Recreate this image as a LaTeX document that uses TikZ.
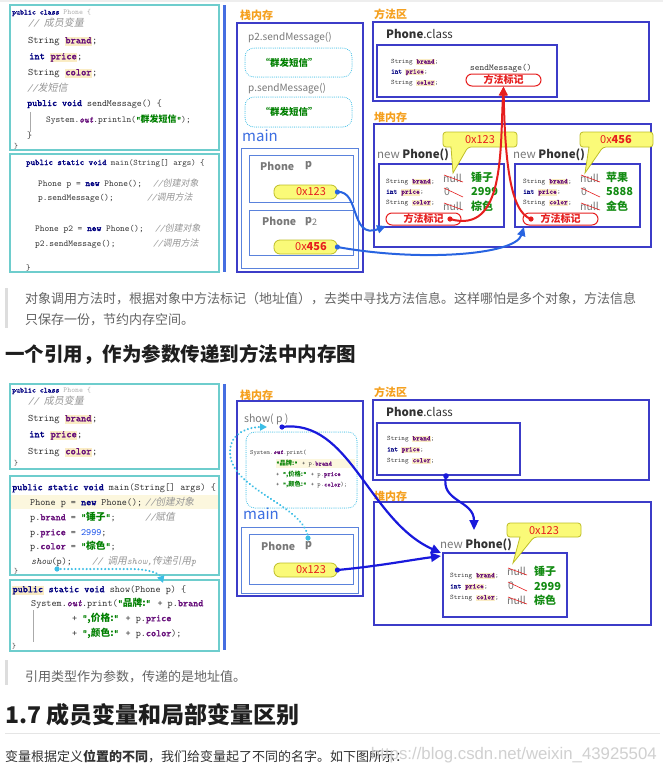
\documentclass[tikz,border=0pt]{standalone}
\usepackage{fontspec}
\usetikzlibrary{arrows.meta}
\newfontfamily\cjk{Noto Sans CJK SC}
\newfontfamily\cjki{Noto Sans CJK SC}[FakeSlant=0.2]
\newfontfamily\codefont{lmmono10-regular.otf}[BoldFont=lmmono10-regular.otf,BoldFeatures={FakeBold=2},ItalicFont=lmmono10-italic.otf,BoldItalicFont=lmmono10-italic.otf,BoldItalicFeatures={FakeBold=2}]
\newfontfamily\wmfont{Liberation Sans}
\newcommand\fs[1]{\fontsize{#1}{#1}\selectfont}
\definecolor{kwc}{RGB}{0,0,128}
\definecolor{fldc}{RGB}{102,14,122}
\definecolor{hly}{RGB}{250,236,196}
\definecolor{hlband}{RGB}{252,247,222}
\definecolor{cmtc}{RGB}{150,150,150}
\definecolor{strc}{RGB}{0,128,0}
\definecolor{numc}{RGB}{23,80,235}
\definecolor{codec}{RGB}{50,50,50}
\definecolor{lgr}{RGB}{170,170,170}
\definecolor{cyanb}{RGB}{110,205,205}
\definecolor{bbar}{RGB}{70,110,225}
\definecolor{stkb}{RGB}{60,60,200}
\definecolor{mainb}{RGB}{90,130,220}
\definecolor{orng}{RGB}{245,160,30}
\definecolor{graytxt}{RGB}{120,120,120}
\definecolor{darkgr}{RGB}{50,50,50}
\definecolor{pillf}{RGB}{250,250,120}
\definecolor{pilld}{RGB}{190,190,40}
\definecolor{redc}{RGB}{230,30,30}
\definecolor{grn}{RGB}{20,140,20}
\definecolor{arrb}{RGB}{40,100,225}
\definecolor{arrb2}{RGB}{25,25,220}
\definecolor{dotc}{RGB}{60,190,230}
\definecolor{mainblue}{RGB}{60,110,225}
\definecolor{paragr}{RGB}{100,100,100}
\definecolor{headc}{RGB}{30,30,30}
\definecolor{qbar}{RGB}{221,221,221}
\definecolor{rulec}{RGB}{229,229,229}
\definecolor{topg}{RGB}{238,238,238}
\definecolor{wmc}{RGB}{200,200,200}
\newcommand\kw[1]{{\bfseries\color{kwc}#1}}
\newcommand\fld[1]{{\setlength\fboxsep{0.4pt}\colorbox{hly}{\vphantom{bp}\bfseries\color{fldc}#1}}}
\newcommand\fldn[1]{{\bfseries\color{fldc}#1}}
\newcommand\cmt[1]{{\color{cmtc}\itshape #1}}
\newcommand\gstr[1]{{\color{strc}\bfseries “{\cjk #1}”}}
\newcommand\outk{{\color{fldc}\bfseries\itshape out}}
\tikzset{
 cd/.style={anchor=base west, inner sep=0pt, font={\codefont\fs{#1}}, text=codec},
 lbl/.style={anchor=west, inner sep=0pt, font={\cjk\bfseries\fs{11}}, text=orng},
 gtxt/.style={anchor=west, inner sep=0pt, font={\cjk\fs{10}}, text=graytxt},
 gstrn/.style={inner sep=0pt, font={\cjk\bfseries\fs{9.5}}, text=strc},
 mainlbl/.style={anchor=west, inner sep=0pt, font={\cjk\fs{15}}, text=mainblue},
 ptxt/.style={anchor=west, inner sep=0pt, font={\cjk\bfseries\fs{10.5}}, text=graytxt},
 addr/.style={inner sep=0pt, font={\cjk\fs{11}}, text=redc},
 pill/.style={draw=pilld, fill=pillf, rounded corners=6pt, minimum width=63pt, minimum height=14pt, inner sep=0pt, line width=0.8pt},
 boxa/.style={draw=stkb, line width=1.2pt},
 boxm/.style={draw=mainb, line width=1pt},
 cyb/.style={draw=cyanb, line width=1.3pt},
 dotbox/.style={draw=dotc, line width=1pt, dash pattern=on 0.1pt off 1.8pt, line cap=round, rounded corners=9pt},
 clsl/.style={anchor=west, inner sep=0pt, font={\cjk\fs{11.5}}, text=darkgr},
 npl/.style={anchor=west, inner sep=0pt, font={\cjk\fs{11.5}}},
 mkbox/.style={draw=redc, rounded corners=6pt, minimum width=75pt, minimum height=12pt, inner sep=0pt, line width=1pt, text=redc, font={\cjk\bfseries\fs{10}}},
 nullt/.style={anchor=west, inner sep=0pt, font={\cjk\fs{10.5}}, text=graytxt},
 val/.style={anchor=west, inner sep=0pt, font={\cjk\bfseries\fs{11}}, text=grn},
 strike/.style={draw=redc, line width=0.6pt},
 callout/.style={fill=pillf, draw=pilld, line width=0.8pt},
 redarr/.style={draw=redc, line width=2pt, -{Triangle[length=9pt,width=8pt]}},
 bluearr/.style={draw=arrb, line width=2pt, -{Triangle[length=9pt,width=8pt]}},
 bluearr2/.style={draw=arrb2, line width=2.2pt, -{Triangle[length=10pt,width=9pt]}},
 dotarr/.style={draw=dotc, line width=2.2pt, dash pattern=on 0.1pt off 3.6pt, line cap=round, -{Triangle[length=7pt,width=7pt]}},
 para/.style={anchor=west, inner sep=0pt, font={\cjk\fs{13}}, text=paragr},
 head/.style={anchor=west, inner sep=0pt, font={\cjk\bfseries\fs{#1}}, text=headc},
}
\begin{document}
\begin{tikzpicture}[x=1pt,y=-1pt]
\useasboundingbox (0,0) rectangle (663,772);
\fill[white] (0,0) rectangle (663,772);
\fill[topg] (0,0) rectangle (663,1.5);

%================ SECTION 1 : code
\draw[cyb] (10,5) rectangle (219,150);
\node[cd=7.5] (a0) at (12,14.5) {\kw{public class} {\color{lgr}Phone \{}};
\node[cd=10] (a1) at (28,26.5) {\cmt{// {\cjki 成员变量}}};
\node[cd=10] (a2) at (28,43.3) {String \fld{brand};};
\node[cd=10] (a3) at (29,59.3) {\kw{int} \fld{price};};
\node[cd=10] (a4) at (28,75.3) {String \fld{color};};
\node[cd=10] (a5) at (27,91.3) {\cmt{//{\cjki 发短信}}};
\node[cd=9.5] (a6) at (27,106) {\kw{public void} sendMessage() \{};
\node[cd=9] (a7) at (46,122.5) {System.\outk.println(\gstr{群发短信});};
\node[cd=9.5] (a8) at (27,138) {\}};
\node[cd=7.5] (a9) at (14,148.5) {\}};
\draw[lgr, line width=0.5pt] (30,112) -- (30,132);

\draw[cyb] (10,154) rectangle (219,272);
\node[cd=8.5] (b0) at (26,165) {\kw{public static void} main(String[] args) \{};
\node[cd=9] (b1) at (38,186) {Phone p = \kw{new} Phone();};
\node[cd=9] (b1c) at (153,186) {\cmt{//{\cjki 创建对象}}};
\node[cd=9] (b2) at (38,200) {p.sendMessage();};
\node[cd=9] (b2c) at (147,200) {\cmt{//{\cjki 调用方法}}};
\node[cd=9] (b3) at (35,231) {Phone p2 = \kw{new} Phone();};
\node[cd=9] (b3c) at (155,231) {\cmt{//{\cjki 创建对象}}};
\node[cd=9] (b4) at (35,246) {p2.sendMessage();};
\node[cd=9] (b4c) at (153,246) {\cmt{//{\cjki 调用方法}}};
\node[cd=8.5] (b5) at (26,270.5) {\}};

\fill[bbar] (222.5,5) rectangle (225.5,272);

%================ SECTION 1 : stack
\node[lbl] (s1) at (240,15) {栈内存};
\draw[boxa] (237,23) rectangle (363,272);
\node[gtxt] (s2) at (248,38) {p2.sendMessage()};
\draw[dotbox] (245,48) rectangle (352,77);
\node[gstrn] (s3) at (289,62.5) {“群发短信”};
\node[gtxt] (s4) at (248,89) {p.sendMessage()};
\draw[dotbox] (245,97) rectangle (352,127);
\node[gstrn] (s5) at (289,112) {“群发短信”};
\node[mainlbl] (s6) at (242,136) {main};
\draw[boxm] (241,148) rectangle (358,268);
\draw[boxm] (249,155) rectangle (353,202);
\node[ptxt] (s7) at (260,166) {Phone};
\node[ptxt] (s8) at (305,166) {p};
\node[pill] (pill1) at (305.5,192) {};
\node[addr] (s9) at (311,192) {0x123};
\draw[boxm] (249,210) rectangle (353,255);
\node[ptxt] (s10) at (262,221) {Phone};
\node[ptxt] (s11) at (305,222) {p\raisebox{-1.5pt}{\fs{9}\mdseries 2}};
\node[pill] (pill2) at (305.5,247) {};
\node[addr] (s12) at (311,247) {0x\textbf{456}};

%================ SECTION 1 : method area
\node[lbl] (m1) at (374,14) {方法区};
\draw[boxa] (373,22) rectangle (649,101);
\node[clsl] (m2) at (386,34) {\textbf{Phone}.class};
\draw[boxa] (377,45) rectangle (557,97);
\node[cd=6.8] (m3) at (391,63.5) {String \fld{brand};};
\node[cd=6.8] (m4) at (391,73.5) {\kw{int} \fld{price};};
\node[cd=6.8] (m5) at (391,84.5) {String \fld{color};};
\node[cd=9] (m6) at (470,70) {sendMessage()};
\node[mkbox] (mk1) at (503.5,80) {方法标记};

%================ SECTION 1 : heap
\node[lbl] (h1) at (374,117) {堆内存};
\draw[boxa] (374,124) rectangle (651,247);
% left object
\node[npl] (h2) at (377,155) {{\color{graytxt}new} {\color{darkgr}\bfseries Phone()}};
\draw[boxa] (379,164) rectangle (504,227);
\node[cd=7] (h3) at (386,183.3) {String \fld{brand};};
\node[cd=7] (h4) at (386,193.8) {\kw{int} \fld{price};};
\node[cd=7] (h5) at (386,204.3) {String \fld{color};};
\node[nullt] (h6) at (443,178) {null};
\draw[strike] (444,175) -- (463,182);
\node[nullt] (h7) at (444,192) {0};
\draw[strike] (444,188) -- (463,197);
\node[nullt] (h8) at (443,206) {null};
\draw[strike] (444,203) -- (463,210);
\node[val] (h9) at (471,177.5) {锤子};
\node[val] (h10) at (471,192) {2999};
\node[val] (h11) at (471,206.5) {棕色};
\node[mkbox] (mk2) at (423.5,219) {方法标记};
\filldraw[callout, rounded corners=3pt] (443,132) -- (517,132) -- (517,147) -- (468,147) [sharp corners] -- (453,173) -- (451,147) [rounded corners=3pt] -- (443,147) -- cycle;
\node[addr] (h12) at (480,139.5) {0x123};
% right object
\node[npl] (h13) at (513,155) {{\color{graytxt}new} {\color{darkgr}\bfseries Phone()}};
\draw[boxa] (515,164) rectangle (640,227);
\node[cd=7] (h14) at (523,183.3) {String \fld{brand};};
\node[cd=7] (h15) at (523,193.8) {\kw{int} \fld{price};};
\node[cd=7] (h16) at (523,204.3) {String \fld{color};};
\node[nullt] (h17) at (580,178) {null};
\draw[strike] (581,175) -- (600,182);
\node[nullt] (h18) at (581,192) {0};
\draw[strike] (581,188) -- (600,197);
\node[nullt] (h19) at (580,206) {null};
\draw[strike] (581,203) -- (600,210);
\node[val] (h20) at (606,177.5) {苹果};
\node[val] (h21) at (606,192) {5888};
\node[val] (h22) at (606,206.5) {金色};
\node[mkbox] (mk3) at (560.5,219) {方法标记};
\filldraw[callout, rounded corners=3pt] (580,132) -- (653,132) -- (653,147) -- (603,147) [sharp corners] -- (585,173) -- (589,147) [rounded corners=3pt] -- (580,147) -- cycle;
\node[addr] (h23) at (616,139.5) {0x\textbf{456}};

% arrows section 1
\coordinate (r1) at (450,219);
\coordinate (r2) at (531,219);
\draw[redarr] (r1) .. controls (505,235) and (500,150) .. (mk1.south);
\draw[redarr] (r2) .. controls (510,212) and (505,160) .. (mk1.south);
\fill[redc] (r1) circle (2.6pt);
\fill[redc] (r2) circle (2.6pt);
\coordinate (o1) at (386,226);
\coordinate (o2) at (524,227);
\draw[bluearr] (pill1.east) .. controls (360,190) and (350,240) .. (o1);
\draw[bluearr] (pill2.east) .. controls (420,262) and (515,255) .. (o2);
\fill[arrb] (pill1.east) circle (2.6pt);
\fill[arrb] (pill2.east) circle (2.6pt);

%================ TEXT 1
\fill[qbar] (4.5,288) rectangle (8,328);
\node[para] (t1) at (25,299) {对象调用方法时，根据对象中方法标记（地址值），去类中寻找方法信息。这样哪怕是多个对象，方法信息};
\node[para] (t2) at (25,320) {只保存一份，节约内存空间。};
\node[head=19.5] (t3) at (5,355) {一个引用，作为参数传递到方法中内存图};

%================ SECTION 2 : code
\draw[cyb] (10,384) rectangle (219,469);
\node[cd=7.5] (c0) at (12,392.5) {\kw{public class} {\color{lgr}Phone \{}};
\node[cd=10] (c1) at (28,404.5) {\cmt{// {\cjki 成员变量}}};
\node[cd=10] (c2) at (28,421.3) {String \fld{brand};};
\node[cd=10] (c3) at (29,437.3) {\kw{int} \fld{price};};
\node[cd=10] (c4) at (28,454.3) {String \fld{color};};
\node[cd=7.5] (c5) at (14,465.5) {\}};

\draw[cyb] (10,476) rectangle (219,575);
\fill[hlband] (11,495) rectangle (218,509);
\node[cd=9.7] (d0) at (12,490.2) {\kw{public static void} main(String[] args) \{};
\node[cd=9.7] (d1) at (30,505.2) {Phone p = \kw{new} Phone();};
\node[cd=9.7] (d1c) at (145,505.2) {\cmt{//{\cjki 创建对象}}};
\node[cd=9.7] (d2) at (30,520.2) {p.\fldn{brand} = \gstr{锤子};};
\node[cd=9.7] (d2c) at (145,520.2) {\cmt{//{\cjki 赋值}}};
\node[cd=9.7] (d3) at (30,535.2) {p.\fldn{price} = {\color{numc}2999};};
\node[cd=9.7] (d4) at (30,549.2) {p.\fldn{color} = \gstr{棕色};};
\node[cd=9.7] (d5) at (31,564.2) {{\itshape show}(p);};
\node[cd=9.7] (d5c) at (92,564.2) {\cmt{// {\cjki 调用}show,{\cjki 传递引用}p}};
\node[cd=7.5] (d6) at (14,573.5) {\}};

\draw[cyb] (10,580) rectangle (219,651);
\node[cd=9.7] (e0) at (12,592.2) {{\setlength\fboxsep{0.4pt}\colorbox{hly}{\vphantom{bp}\kw{public}}} \kw{static void} show(Phone p) \{};
\node[cd=9.7] (e1) at (31,606.2) {System.\outk.print(\gstr{品牌:} + p.\fldn{brand}};
\node[cd=9.7] (e2) at (72,621.2) {+ \gstr{,价格:} + p.\fldn{price}};
\node[cd=9.7] (e3) at (72,636.2) {+ \gstr{,颜色:} + p.\fldn{color});};
\node[cd=7.5] (e4) at (12,648) {\}};
\draw[lgr, line width=0.5pt] (33,610) -- (33,642);

\coordinate (q1) at (57,569);
\coordinate (q2) at (163,583);
\draw[dotarr] (q1) -- (130,569) .. controls (150,569) and (160,574) .. (q2);
\fill[dotc] (q1) circle (2.6pt);

\fill[bbar] (222.5,384) rectangle (225.5,650);

%================ SECTION 2 : stack
\node[lbl] (u1) at (240,395) {栈内存};
\draw[boxa] (237,401) rectangle (363,596);
\node[gtxt, font={\cjk\fs{10.5}}] (u2) at (244,419) {show( p )};
\draw[dotbox] (246,432) rectangle (357,508);
\fill[hlband] (276,458.5) rectangle (355,468);
\node[cd=6.3] (u3) at (250,454) {System.\outk.print(};
\node[cd=6.3] (u4) at (276,465.5) {\gstr{品牌:} + p.\fldn{brand}};
\node[cd=6.3] (u5) at (276,476) {+ \gstr{,价格:} + p.\fldn{price}};
\node[cd=6.3] (u6) at (276,486.5) {+ \gstr{,颜色:} + p.\fldn{color});};
\node[mainlbl] (u7) at (243,514) {main};
\draw[boxm] (241,527) rectangle (358,593);
\draw[boxm] (249,534) rectangle (353,584);
\node[ptxt] (u8) at (261,546) {Phone};
\node[ptxt] (u9) at (305,546) {p};
\node[pill] (pill3) at (305.5,570) {};
\node[addr] (u10) at (311,570) {0x123};

\coordinate (pcd) at (308,538);
\coordinate (st) at (267,427);
\draw[dotarr] (pcd) .. controls (305,505) and (230,490) .. (230,452) .. controls (230,432) and (250,427) .. (st);
\fill[dotc] (pcd) circle (2.6pt);

%================ SECTION 2 : method area
\node[lbl] (v1) at (374,392) {方法区};
\draw[boxa] (373,400) rectangle (649,480);
\node[clsl] (v2) at (386,412) {\textbf{Phone}.class};
\draw[boxa] (377,423) rectangle (520,475);
\node[cd=6.8] (v3) at (387,440.3) {String \fld{brand};};
\node[cd=6.8] (v4) at (387,451.3) {\kw{int} \fld{price};};
\node[cd=6.8] (v5) at (387,462.3) {String \fld{color};};

%================ SECTION 2 : heap
\node[lbl] (w1) at (374,496) {堆内存};
\draw[boxa] (374,502) rectangle (651,625);
\node[npl] (w2) at (440,545) {{\color{graytxt}new} {\color{darkgr}\bfseries Phone()}};
\draw[boxa] (443,553) rectangle (567,617);
\node[cd=7] (w3) at (450,577.3) {String \fld{brand};};
\node[cd=7] (w4) at (450,588.3) {\kw{int} \fld{price};};
\node[cd=7] (w5) at (450,599.3) {String \fld{color};};
\node[nullt] (w6) at (507,571) {null};
\draw[strike] (508,568) -- (527,575);
\node[nullt] (w7) at (508,586) {0};
\draw[strike] (508,582) -- (527,591);
\node[nullt] (w8) at (507,600) {null};
\draw[strike] (508,597) -- (527,604);
\node[val] (w9) at (534,571.5) {锤子};
\node[val] (w10) at (534,586) {2999};
\node[val] (w11) at (534,600.5) {棕色};
\filldraw[callout, rounded corners=3pt] (507,523) -- (581,523) -- (581,537) -- (534,537) [sharp corners] -- (513,563) -- (520,537) [rounded corners=3pt] -- (507,537) -- cycle;
\node[addr] (w12) at (544,530.5) {0x123};

% arrows section 2
\coordinate (sp) at (282,427);
\coordinate (ob1) at (441,553);
\coordinate (ob2) at (441,556);
\coordinate (cd2) at (446,476);
\coordinate (ob3) at (474,530);
\draw[bluearr2] (sp) .. controls (350,418) and (368,520) .. (ob1);
\draw[bluearr2] (pill3.east) .. controls (380,566) and (410,560) .. (ob2);
\draw[bluearr2] (cd2) .. controls (440,502) and (474,500) .. (ob3);
\fill[arrb2] (sp) circle (2.6pt);
\fill[arrb2] (pill3.east) circle (2.6pt);
\fill[arrb2] (cd2) circle (2.8pt);

%================ TEXT 2
\fill[qbar] (4.5,660) rectangle (8,685);
\node[para] (x1) at (25,677) {引用类型作为参数，传递的是地址值。};
\node[head=23] (x2) at (5,715) {1.7 成员变量和局部变量区别};
\draw[rulec, line width=0.8pt] (5,733) -- (660,733);
\node[para, text=darkgr] (x4) at (5,757) {变量根据定义\textbf{位置的不同}，我们给变量起了不同的名字。如下图所示：};
\node[anchor=east, inner sep=0pt, font={\wmfont\fs{16.8}}, text=wmc, opacity=0.85] (x3) at (657,755) {https://blog.csdn.net/weixin\_43925504};
\end{tikzpicture}
\end{document}
